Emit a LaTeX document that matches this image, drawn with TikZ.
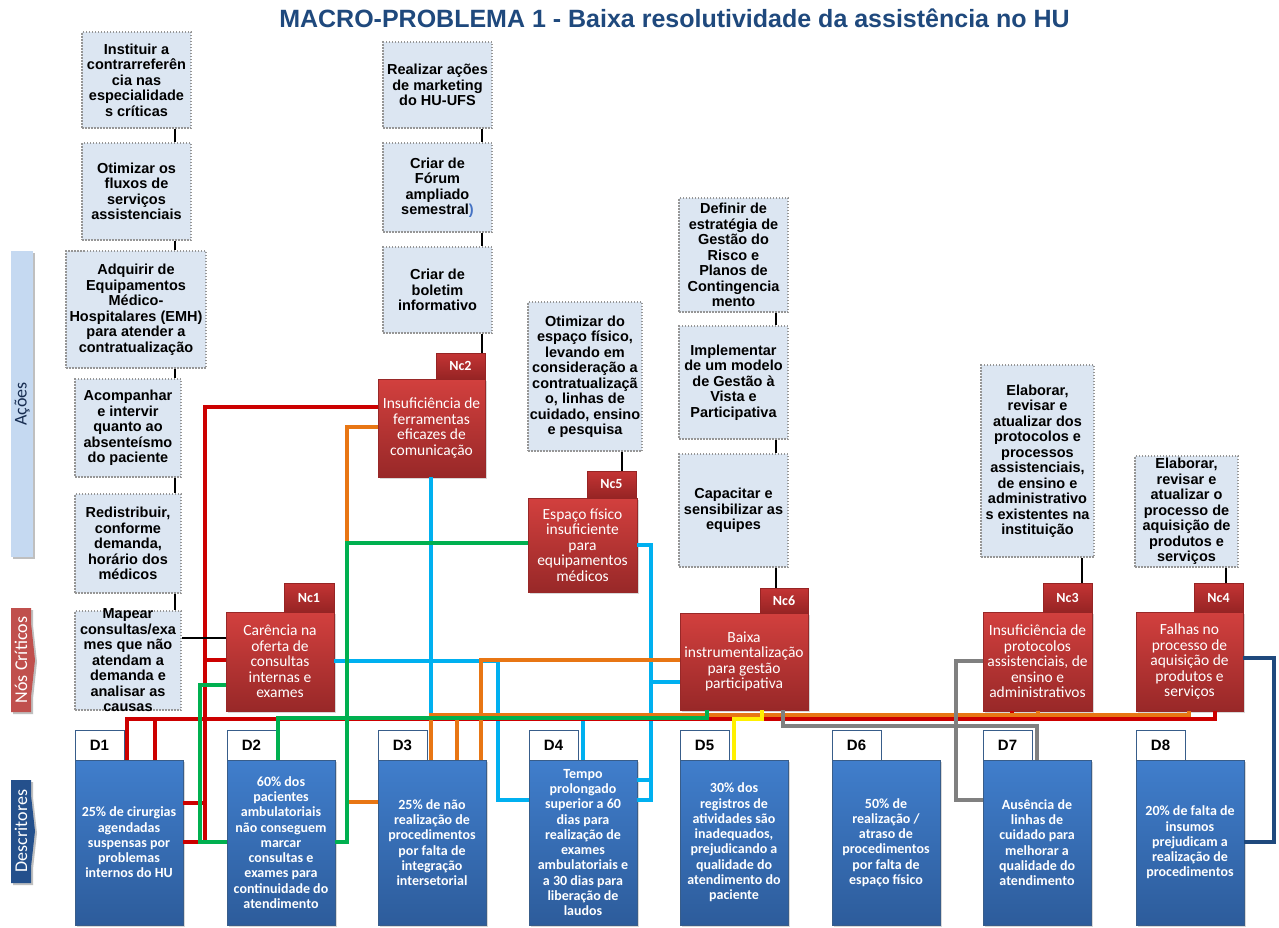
\documentclass[tikz,border=0pt]{standalone}
\usepackage{fontspec}
\setmainfont{Liberation Sans}
\newfontfamily\carl{Carlito}
\usetikzlibrary{shadows}
\definecolor{tblue}{RGB}{31,73,125}
\definecolor{abg}{RGB}{220,230,242}
\definecolor{agray}{RGB}{150,150,150}
\definecolor{cred}{RGB}{204,0,0}
\definecolor{corange}{RGB}{232,118,20}
\definecolor{ccyan}{RGB}{0,176,240}
\definecolor{cgreen}{RGB}{0,176,80}
\definecolor{cyellow}{RGB}{255,240,0}
\definecolor{cgray}{RGB}{128,128,128}
\definecolor{cnavy}{RGB}{31,73,125}
\definecolor{dtop}{RGB}{64,126,204}
\definecolor{dbot}{RGB}{45,92,155}
\definecolor{dborder}{RGB}{56,93,138}
\definecolor{ntop}{RGB}{210,64,62}
\definecolor{nbot}{RGB}{152,40,40}
\definecolor{ttop}{RGB}{196,52,52}
\definecolor{tbot}{RGB}{150,36,36}
\definecolor{acbar}{RGB}{197,217,241}
\definecolor{ncbar}{RGB}{192,80,77}
\definecolor{dsbar}{RGB}{36,80,140}
\definecolor{parblue}{RGB}{68,114,196}
\tikzset{
  abox/.style={draw=agray, line width=1.5pt, dash pattern=on 1.5pt off 1.5pt, fill=abg,
    inner sep=0pt, align=center, font=\bfseries\fontsize{14.5}{15.5}\selectfont},
  nbox/.style={top color=ntop, bottom color=nbot, draw=nbot, line width=0.4pt, text=white,
    align=center, inner sep=0pt, font=\carl\fontsize{15.5}{15.5}\selectfont,
    drop shadow={shadow xshift=2pt, shadow yshift=-2pt, opacity=0.3}},
  ntab/.style={top color=ttop, bottom color=tbot, draw=tbot, line width=0.4pt, text=white,
    inner sep=0pt, font=\carl\bfseries\fontsize{14}{16}\selectfont},
  dbox/.style={top color=dtop, bottom color=dbot, draw=dborder, line width=0.8pt, text=white,
    align=center, inner sep=0pt, minimum width=108pt, minimum height=165pt,
    font=\carl\bfseries\fontsize{14}{15.3}\selectfont,
    drop shadow={shadow xshift=2pt, shadow yshift=-2pt, opacity=0.3}},
  dtab/.style={fill=white, draw=dborder, line width=1pt, inner sep=0pt,
    minimum width=49pt, minimum height=30pt, font=\bfseries\fontsize{15}{17}\selectfont},
  blk/.style={line width=2.6pt, black},
  wire/.style={line width=3.5pt},
  sidelbl/.style={rotate=90, inner sep=0pt, font=\carl\fontsize{18}{20}\selectfont},
}
\begin{document}
\begin{tikzpicture}[x=1pt,y=-1pt]
\useasboundingbox[fill=white] (0,0) rectangle (1279,927);

% title
\node[anchor=base, inner sep=0pt, text=tblue, font=\bfseries\fontsize{25}{28}\selectfont] (title) at (674.5,27)
  {MACRO-PROBLEMA 1 - Baixa resolutividade da assistência no HU};

% side bars
\fill[black!25] (13,253) rectangle (35,559);
\fill[acbar] (11,251) rectangle (33,557);
\node[sidelbl, text={rgb,255:red,23;green,44;blue,80}] (lacoes) at (22,404) {Ações};
\fill[black!25] (13,610) -- (33,610) -- (33,625) -- (37,662) -- (33,699) -- (33,714) -- (13,714) -- cycle;
\fill[ncbar] (11,608) -- (31,608) -- (31,623) -- (35,660) -- (31,697) -- (31,712) -- (11,712) -- cycle;
\node[sidelbl, text=white] (lnos) at (21,660) {Nós Críticos};
\fill[black!25] (13,782) -- (33,782) -- (33,797) -- (37,833) -- (33,869) -- (33,885) -- (13,885) -- cycle;
\fill[dsbar] (11,780) -- (31,780) -- (31,795) -- (35,831) -- (31,867) -- (31,883) -- (11,883) -- cycle;
\node[sidelbl, text=white] (ldesc) at (21,831) {Descritores};

% action boxes
\node[abox, minimum width=109pt, minimum height=96pt] (a1) at (136.5,80)
  {Instituir a\\contrarreferên\\cia nas\\especialidade\\s críticas};
\node[abox, minimum width=109pt, minimum height=97pt] (a2) at (136.5,191.5)
  {Otimizar os\\fluxos de\\serviços\\assistenciais};
\node[abox, minimum width=140pt, minimum height=117pt] (a3) at (136,309.5)
  {Adquirir de\\Equipamentos\\Médico-\\Hospitalares (EMH)\\para atender a\\contratualização};
\node[abox, minimum width=106pt, minimum height=98pt] (a4) at (128,428)
  {Acompanhar\\e intervir\\quanto ao\\absenteísmo\\do paciente};
\node[abox, minimum width=106pt, minimum height=99pt] (a5) at (128,543.5)
  {Redistribuir,\\conforme\\demanda,\\horário dos\\médicos};
\node[abox, minimum width=106pt, minimum height=99pt, inner ysep=-6pt] (a6) at (128,660.5)
  {Mapear\\consultas/exa\\mes que não\\atendam a\\demanda e\\analisar as\\causas};
\node[abox, minimum width=109pt, minimum height=86pt] (b1) at (437.5,85)
  {Realizar ações\\de marketing\\do HU-UFS};
\node[abox, minimum width=109pt, minimum height=89pt] (b2) at (437.5,187.5)
  {Criar de\\Fórum\\ampliado\\semestral{\color{parblue})}};
\node[abox, minimum width=109pt, minimum height=86pt] (b3) at (437.5,290)
  {Criar de\\boletim\\informativo};
\node[abox, minimum width=114pt, minimum height=149pt] (o1) at (585,376.5)
  {Otimizar do\\espaço físico,\\levando em\\consideração a\\contratualizaçã\\o, linhas de\\cuidado, ensino\\e pesquisa};
\node[abox, minimum width=109pt, minimum height=114pt] (c1) at (733.5,255)
  {Definir de\\estratégia de\\Gestão do\\Risco e\\Planos de\\Contingencia\\mento};
\node[abox, minimum width=109pt, minimum height=113pt] (c2) at (733.5,382.5)
  {Implementar\\de um modelo\\de Gestão à\\Vista e\\Participativa};
\node[abox, minimum width=109pt, minimum height=113pt] (c3) at (733.5,510.5)
  {Capacitar e\\sensibilizar as\\equipes};
\node[abox, minimum width=113pt, minimum height=192pt] (e1) at (1037.5,461)
  {Elaborar,\\revisar e\\atualizar dos\\protocolos e\\processos\\assistenciais,\\de ensino e\\administrativo\\s existentes na\\instituição};
\node[abox, minimum width=103pt, minimum height=111pt] (f1) at (1186.5,511.5)
  {Elaborar,\\revisar e\\atualizar o\\processo de\\aquisição de\\produtos e\\serviços};

% critical nodes
\node[nbox, minimum width=108pt, minimum height=99pt] (nc1) at (280,661.5)
  {Carência na\\oferta de\\consultas\\internas e\\exames};
\node[ntab, minimum width=50pt, minimum height=29pt] (nc1t) at (309,597.5) {Nc1};
\node[nbox, minimum width=107pt, minimum height=98pt] (nc2) at (431.5,428)
  {Insuficiência de\\ferramentas\\eficazes de\\comunicação};
\node[ntab, minimum width=49pt, minimum height=26pt] (nc2t) at (460.5,366) {Nc2};
\node[nbox, minimum width=109pt, minimum height=94pt] (nc5) at (582.5,545)
  {Espaço físico\\insuficiente\\para\\equipamentos\\médicos};
\node[ntab, minimum width=49pt, minimum height=27pt] (nc5t) at (611.5,484.5) {Nc5};
\node[nbox, minimum width=128pt, minimum height=97pt] (nc6) at (744,661.5)
  {Baixa\\instrumentalização\\para gestão\\participativa};
\node[ntab, minimum width=48pt, minimum height=25pt] (nc6t) at (784,600.5) {Nc6};
\node[nbox, minimum width=109pt, minimum height=99pt] (nc3) at (1037.5,661.5)
  {Insuficiência de\\protocolos\\assistenciais, de\\ensino e\\administrativos};
\node[ntab, minimum width=49pt, minimum height=29pt] (nc3t) at (1067.5,597.5) {Nc3};
\node[nbox, minimum width=107pt, minimum height=99pt] (nc4) at (1189.5,661.5)
  {Falhas no\\processo de\\aquisição de\\produtos e\\serviços};
\node[ntab, minimum width=49pt, minimum height=29pt] (nc4t) at (1218.5,597.5) {Nc4};

% descriptors
\node[dtab] (d1t) at (99.5,745) {D1};
\node[dbox] (d1) at (129,842.5) {25\% de cirurgias\\agendadas\\suspensas por\\problemas\\internos do HU};
\node[dtab] (d2t) at (251.5,745) {D2};
\node[dbox] (d2) at (281,842.5) {60\% dos\\pacientes\\ambulatoriais\\não conseguem\\marcar\\consultas e\\exames para\\continuidade do\\atendimento};
\node[dtab] (d3t) at (402.5,745) {D3};
\node[dbox] (d3) at (432,842.5) {25\% de não\\realização de\\procedimentos\\por falta de\\integração\\intersetorial};
\node[dtab] (d4t) at (553.5,745) {D4};
\node[dbox] (d4) at (583,842.5) {Tempo\\prolongado\\superior a 60\\dias para\\realização de\\exames\\ambulatoriais e\\a 30 dias para\\liberação de\\laudos};
\node[dtab] (d5t) at (704.5,745) {D5};
\node[dbox] (d5) at (734,842.5) {30\% dos\\registros de\\atividades são\\inadequados,\\prejudicando a\\qualidade do\\atendimento do\\paciente};
\node[dtab] (d6t) at (856.5,745) {D6};
\node[dbox] (d6) at (886,842.5) {50\% de\\realização /\\atraso de\\procedimentos\\por falta de\\espaço físico};
\node[dtab] (d7t) at (1007.5,745) {D7};
\node[dbox] (d7) at (1037,842.5) {Ausência de\\linhas de\\cuidado para\\melhorar a\\qualidade do\\atendimento};
\node[dtab] (d8t) at (1160.5,745) {D8};
\node[dbox] (d8) at (1190,842.5) {20\% de falta de\\insumos\\prejudicam a\\realização de\\procedimentos};

% cyan connectors
\draw[wire,ccyan] (nc2.south -| 431,0) |- (583,719) -- (d4.north -| 583,0);
\draw[wire,ccyan] (nc1.east |- 0,661) -| (498,800) -- (d4.west |- 0,800);
\draw[wire,ccyan] (nc5.east |- 0,545) -| (651,800) -- (d4.east |- 0,800);
\draw[wire,ccyan] (nc6.west |- 0,682) -| (651,780) -- (d4.east |- 0,780);
% red connectors
\draw[wire,cred] (nc4.south -| 1215,0) |- (127,719) -- (d1.north -| 127,0);
\draw[wire,cred] (nc3.south -| 1012,0) |- (155,719) -- (d1.north -| 155,0);
\draw[wire,cred] (nc2.west |- 0,407) -| (205,803) -- (d1.east |- 0,803);
\draw[wire,cred] (nc1.west |- 0,660) -| (205,842) -- (d1.east |- 0,842);
% orange connectors
\draw[wire,corange] (nc2.west |- 0,427) -| (347,802) -- (d3.west |- 0,802);
\draw[wire,corange] (nc6.west |- 0,660) -| (d3.north -| 481,0);
\draw[wire,corange] (nc4.south -| 1189,0) |- (457,715) -- (d3.north -| 457,0);
\draw[wire,corange] (nc3.south -| 1038,0) |- (431,715) -- (d3.north -| 431,0);
% green connectors
\draw[wire,cgreen] (nc5.west |- 0,543) -| (347,842) -- (d2.east |- 0,842);
\draw[wire,cgreen] (nc1.west |- 0,685) -| (200,842) -- (d2.west |- 0,842);
\draw[wire,cgreen] (nc6.south -| 707,0) |- (278,718) -- (d2.north -| 278,0);
% gray connectors
\draw[wire,cgray] (nc6.south -| 783,0) |- (1037,726) -- (d7.north -| 1037,0);
\draw[wire,cgray] (nc3.west |- 0,661) -| (956,800) -- (d7.west |- 0,800);
% yellow
\draw[wire,cyellow] (nc6.south -| 762,0) |- (734,719) -- (d5.north -| 734,0);
% navy
\draw[wire,cnavy] (nc4.east |- 0,658) -| (1274,842) -- (d8.east |- 0,842);

% black connectors between actions
\draw[blk] (a1.south -| 175,0) -- (a2.north -| 175,0);
\draw[blk] (a2.south -| 175,0) -- (a3.north -| 175,0);
\draw[blk] (a3.south -| 175,0) -- (a4.north -| 175,0);
\draw[blk] (a4.south -| 175,0) -- (a5.north -| 175,0);
\draw[blk] (a5.south -| 175,0) -- (a6.north -| 175,0);
\draw[blk] (a6.east |- 0,638) -- (nc1.west |- 0,638);
\draw[blk] (b1.south -| 482,0) -- (b2.north -| 482,0);
\draw[blk] (b2.south -| 482,0) -- (b3.north -| 482,0);
\draw[blk] (b3.south -| 482,0) -- (nc2t.north -| 482,0);
\draw[blk] (o1.south -| 622,0) -- (nc5t.north -| 622,0);
\draw[blk] (c1.south -| 776,0) -- (c2.north -| 776,0);
\draw[blk] (c2.south -| 776,0) -- (c3.north -| 776,0);
\draw[blk] (c3.south -| 776,0) -- (nc6t.north -| 776,0);
\draw[blk] (e1.south -| 1082,0) -- (nc3t.north -| 1082,0);
\draw[blk] (f1.south -| 1226,0) -- (nc4t.north -| 1226,0);
\end{tikzpicture}
\end{document}
